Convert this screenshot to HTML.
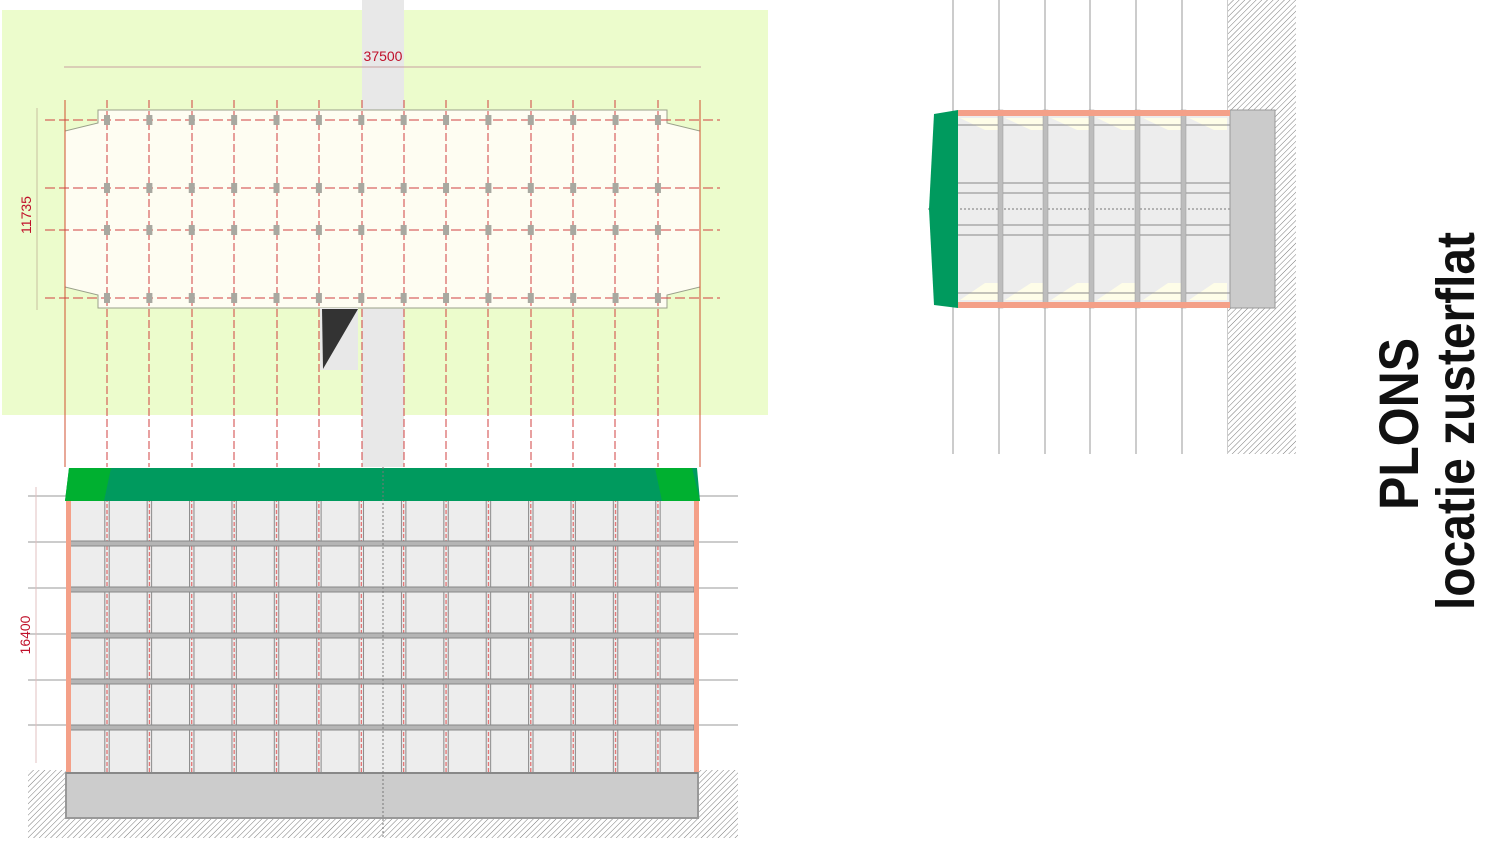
<!DOCTYPE html>
<html><head><meta charset="utf-8"><style>html,body{margin:0;padding:0;background:#fff;}svg{display:block}</style></head>
<body>
<svg width="1500" height="844" viewBox="0 0 1500 844" xmlns="http://www.w3.org/2000/svg">
<defs>
<pattern id="hatch" patternUnits="userSpaceOnUse" width="4" height="4" patternTransform="rotate(45)">
<rect width="4" height="4" fill="#fff"/><line x1="0" y1="0" x2="0" y2="4" stroke="#7a7a7a" stroke-width="1"/>
</pattern>
<pattern id="bays" patternUnits="userSpaceOnUse" x="85.81" y="0" width="42.38" height="844">
<line x1="19" y1="0" x2="19" y2="844" stroke="#888" stroke-width="1"/>
<line x1="23.4" y1="0" x2="23.4" y2="844" stroke="#888" stroke-width="1"/>
<line x1="21.2" y1="0" x2="21.2" y2="844" stroke="#e05050" stroke-width="1" stroke-dasharray="4 2"/>
</pattern>
</defs>

<rect x="2" y="10" width="766" height="405" fill="#ecfccc"/>
<rect x="362" y="0" width="42" height="467" fill="#e8e8e8"/>

<line x1="64" y1="67" x2="701" y2="67" stroke="#c8a0a0" stroke-width="1"/>
<text x="383" y="61" font-family="Liberation Sans, sans-serif" font-size="14" fill="#c0102a" text-anchor="middle">37500</text>
<line x1="37" y1="108" x2="37" y2="310" stroke="#c8c0a0" stroke-width="1"/>
<text transform="translate(31,215) rotate(-90)" font-family="Liberation Sans, sans-serif" font-size="14" fill="#c0102a" text-anchor="middle">11735</text>

<polygon points="98,110 667,110 667,123 700,131 700,287 667,295 667,308 98,308 98,295 65,287 65,131 98,123" fill="#fefdf2" stroke="#9aa08a" stroke-width="1"/>
<polygon points="320,308 358,308 358,370 320,370" fill="#e8e8e8"/>
<polygon points="322,309 358,309 323,369" fill="#333"/>

<path d="M65 100V467M700 100V467" stroke="#d05030" stroke-width="1"/>
<path d="M107 100V467M149 100V467M192 100V467M234 100V467M277 100V467M319 100V467M362 100V467M404 100V467M446 100V467M488 100V467M531 100V467M573 100V467M615 100V467M658 100V467" stroke="#d04040" stroke-width="1" stroke-dasharray="8 3"/>
<path d="M45 120H720M45 188H720M45 230H720M45 298H720" stroke="#d04040" stroke-width="1" stroke-dasharray="10 4"/>
<path d="M104 120H662M104 188H662M104 230H662M104 298H662" stroke="#a8a8a0" stroke-width="10" stroke-dasharray="6 36.38"/>

<rect x="28" y="770" width="710" height="68" fill="url(#hatch)"/>
<path d="M28 496H738M28 542H738M28 588H738M28 634H738M28 680H738M28 725H738" stroke="#999" stroke-width="1"/>
<line x1="36" y1="487" x2="36" y2="763" stroke="#e0c0c0" stroke-width="1"/>
<text transform="translate(30,635) rotate(-90)" font-family="Liberation Sans, sans-serif" font-size="14" fill="#c0102a" text-anchor="middle">16400</text>
<rect x="66" y="500" width="631" height="273" fill="#ededed"/>
<rect x="70" y="500" width="624" height="273" fill="url(#bays)"/>
<g fill="#b5b5b5" stroke="#888" stroke-width="1">
<rect x="70" y="541" width="624" height="5"/><rect x="70" y="587" width="624" height="5"/><rect x="70" y="633" width="624" height="5"/><rect x="70" y="679" width="624" height="5"/><rect x="70" y="725" width="624" height="5"/>
</g>
<rect x="66" y="500" width="5" height="273" fill="#f4a088"/>
<rect x="694" y="500" width="5" height="273" fill="#f4a088"/>
<rect x="66" y="773" width="632" height="45" fill="#cccccc" stroke="#999" stroke-width="2"/>
<line x1="66" y1="773" x2="698" y2="773" stroke="#888" stroke-width="2"/>
<polygon points="69,468 697,468 700,501 65,501" fill="#009a5e"/>
<polygon points="69,468 111,468 104,501 65,501" fill="#00b030"/>
<polygon points="655,468 692,468 700,501 662,501" fill="#00b030"/>
<line x1="383" y1="467" x2="383" y2="838" stroke="#777" stroke-width="1" stroke-dasharray="2 2"/>

<path d="M953 0V454M999 0V454M1045 0V454M1090 0V454M1136 0V454M1182 0V454M1228 0V454" stroke="#999" stroke-width="1"/>
<rect x="1228" y="0" width="68" height="454" fill="url(#hatch)"/>
<rect x="958" y="110" width="272" height="198" fill="#ededed"/>
<g fill="#fefde8">
<polygon points="960,118 998,118 998,130 985,130"/><polygon points="1005,118 1044,118 1044,130 1031,130"/><polygon points="1051,118 1090,118 1090,130 1077,130"/><polygon points="1097,118 1135,118 1135,130 1122,130"/><polygon points="1143,118 1181,118 1181,130 1168,130"/><polygon points="1189,118 1227,118 1227,130 1214,130"/>
<polygon points="960,300 998,300 998,283 985,283"/><polygon points="1005,300 1044,300 1044,283 1031,283"/><polygon points="1051,300 1090,300 1090,283 1077,283"/><polygon points="1097,300 1135,300 1135,283 1122,283"/><polygon points="1143,300 1181,300 1181,283 1168,283"/><polygon points="1189,300 1227,300 1227,283 1214,283"/>
</g>
<path d="M958 125H1230M958 183H1230M958 193H1230M958 225H1230M958 235H1230M958 293H1230" stroke="#888" stroke-width="1"/>
<line x1="928" y1="209" x2="1275" y2="209" stroke="#777" stroke-width="1" stroke-dasharray="2 2"/>
<g fill="#bdbdbd" stroke="#999" stroke-width="0.5">
<rect x="998" y="110" width="5" height="198"/><rect x="1043" y="110" width="5" height="198"/><rect x="1089" y="110" width="5" height="198"/><rect x="1135" y="110" width="5" height="198"/><rect x="1181" y="110" width="5" height="198"/>
</g>
<rect x="1230" y="110" width="45" height="198" fill="#cbcbcb" stroke="#999" stroke-width="1"/>
<rect x="958" y="110" width="272" height="6" fill="#f4a088"/>
<rect x="958" y="302" width="272" height="6" fill="#f4a088"/>
<polygon points="958,110 958,308 934,305 929,209 934,114" fill="#009a5e"/>

<text transform="translate(1418,510) rotate(-90)" font-family="Liberation Sans, sans-serif" font-weight="bold" font-size="56" fill="#111" textLength="172" lengthAdjust="spacingAndGlyphs">PLONS</text>
<text transform="translate(1474,610) rotate(-90)" font-family="Liberation Sans, sans-serif" font-weight="bold" font-size="54" fill="#111" textLength="378" lengthAdjust="spacingAndGlyphs">locatie zusterflat</text>
</svg>
</body></html>
